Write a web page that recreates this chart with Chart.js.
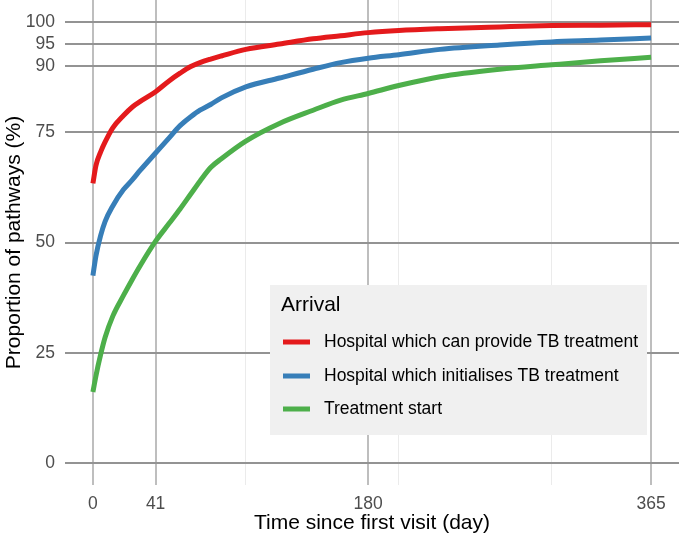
<!DOCTYPE html>
<html>
<head>
<meta charset="utf-8">
<script src="https://cdn.jsdelivr.net/npm/chart.js@4.4.1/dist/chart.umd.min.js"></script>
<style>
  body { margin: 0; background: #ffffff; }
  canvas { display: block; }
</style>
</head>
<body>
<canvas id="chart" width="679" height="538"></canvas>
<script>
// Data
const days = [0, 2, 5, 8, 13, 20, 26, 31, 41, 50, 57, 64, 70, 77, 84, 100, 122, 144, 162, 180, 200, 227, 266, 300, 332, 365];
const hospitalCanProvide = [63.4, 67.5, 70.5, 72.8, 76, 78.8, 80.8, 82, 84.2, 86.7, 88.4, 89.9, 90.8, 91.6, 92.3, 93.8, 95, 96.2, 96.9, 97.6, 98.1, 98.5, 98.9, 99.2, 99.3, 99.4];
const hospitalInitialises = [42.5, 47, 51.5, 54.8, 58.3, 62, 64.3, 66.4, 70.3, 73.8, 76.5, 78.5, 80, 81.3, 82.8, 85.3, 87.3, 89.3, 90.8, 91.8, 92.6, 93.8, 94.8, 95.5, 95.9, 96.4];
const treatmentStart = [16.1, 19.8, 24.5, 28.5, 33.3, 38, 41.8, 44.8, 50.3, 54.4, 57.6, 61, 63.9, 67, 69, 73, 77, 80, 82.3, 83.8, 85.6, 87.6, 89.3, 90.3, 91.2, 92];

const seriesNames = ["Hospital which can provide TB treatment", "Hospital which initialises TB treatment", "Treatment start"];
const seriesColors = ["#E41A1C", "#377EB8", "#4DAF4A"];

const xTicks = [0, 41, 180, 365];
const xMinorTicks = [100, 200, 300];
const yTicks = [0, 25, 50, 75, 90, 95, 100];

const FONT = "'Liberation Sans', Arial, sans-serif";

function points(values) {
    return days.map((d, i) => ({ x: d, y: values[i] }));
}

const datasets = [hospitalCanProvide, hospitalInitialises, treatmentStart].map((vals, i) => ({
    label: seriesNames[i],
    data: points(vals),
    borderColor: seriesColors[i],
    backgroundColor: seriesColors[i],
    borderWidth: 5,
    borderCapStyle: "butt",
    pointRadius: 0,
    cubicInterpolationMode: "monotone",
    fill: false,
}));

// ggplot-like legend box drawn inside the panel
const legendBox = {
    id: "legendBox",
    afterDatasetsDraw(chart) {
        const ctx = chart.ctx;
        ctx.save();
        ctx.fillStyle = "#f0f0f0";
        ctx.fillRect(270, 285, 377, 150);
        ctx.fillStyle = "#000000";
        ctx.textBaseline = "middle";
        ctx.textAlign = "left";
        ctx.font = "21px " + FONT;
        ctx.fillText("Arrival", 281, 305);
        const rows = [342, 376, 409];
        chart.data.datasets.forEach((ds, i) => {
            ctx.strokeStyle = ds.borderColor;
            ctx.lineWidth = 5;
            ctx.beginPath();
            ctx.moveTo(283, rows[i]);
            ctx.lineTo(310, rows[i]);
            ctx.stroke();
            ctx.fillStyle = "#000000";
            ctx.font = "17.5px " + FONT;
            ctx.fillText(ds.label, 324, rows[i]);
        });
        ctx.restore();
    },
};

new Chart(document.getElementById("chart"), {
    type: "line",
    data: { datasets },
    plugins: [legendBox],
    options: {
        responsive: false,
        animation: false,
        layout: { padding: 0 },
        plugins: {
            legend: { display: false },
            tooltip: { enabled: false },
        },
        scales: {
            x: {
                type: "linear",
                min: -18.25,
                max: 383.25,
                afterBuildTicks: (scale) => {
                    scale.ticks = xTicks.concat(xMinorTicks).sort((a, b) => a - b).map((v) => ({ value: v }));
                },
                afterFit: (scale) => {
                    scale.height = 53;
                    scale.paddingLeft = 0;
                    scale.paddingRight = 0;
                },
                border: { display: false },
                grid: {
                    drawTicks: false,
                    color: (c) => (xTicks.includes(c.tick.value) ? "#bebebe" : "#ebebeb"),
                    lineWidth: (c) => (xTicks.includes(c.tick.value) ? 2 : 1),
                },
                ticks: {
                    autoSkip: false,
                    maxRotation: 0,
                    padding: 9,
                    color: "#4d4d4d",
                    font: { family: FONT, size: 17.5 },
                    callback: (v) => (xTicks.includes(v) ? String(v) : ""),
                },
                title: {
                    display: true,
                    text: "Time since first visit (day)",
                    color: "#000000",
                    font: { family: FONT, size: 21 },
                    padding: { top: 0, bottom: 2 },
                },
            },
            y: {
                type: "linear",
                min: -5,
                max: 105,
                afterBuildTicks: (scale) => {
                    scale.ticks = yTicks.map((v) => ({ value: v }));
                },
                afterFit: (scale) => {
                    scale.width = 65;
                    scale.paddingTop = 0;
                    scale.paddingBottom = 0;
                },
                border: { display: false },
                grid: {
                    drawTicks: false,
                    color: "#939393",
                    lineWidth: 2,
                },
                ticks: {
                    padding: 10,
                    color: "#4d4d4d",
                    font: { family: FONT, size: 17.5 },
                },
                title: {
                    display: true,
                    text: "Proportion of pathways (%)",
                    color: "#000000",
                    font: { family: FONT, size: 21 },
                    padding: { top: 2, bottom: 0 },
                },
            },
        },
    },
});
</script>
</body>
</html>
